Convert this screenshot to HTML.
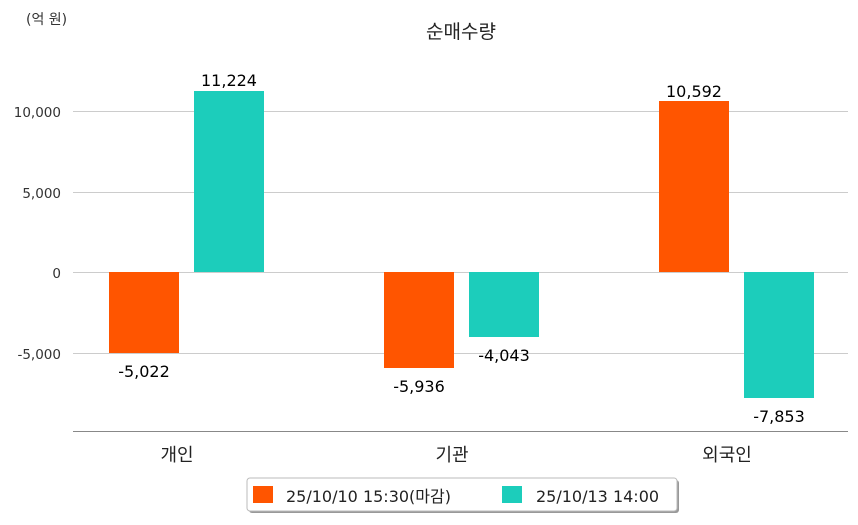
<!DOCTYPE html>
<html><head><meta charset="utf-8"><style>
body{margin:0;background:#fff;}
svg text{font-family:"DejaVu Sans","Noto Sans CJK KR",sans-serif;}
</style></head><body>
<svg width="858" height="520" xmlns="http://www.w3.org/2000/svg">
<rect width="858" height="520" fill="#fff"/>
<text x="26" y="24" font-size="14" fill="#333">(억 원)</text>
<text x="461" y="38" font-size="19" fill="#222" text-anchor="middle">순매수량</text>
<g stroke="#ccc" stroke-width="1">
<line x1="73" y1="111.5" x2="848" y2="111.5"/>
<line x1="73" y1="192.5" x2="848" y2="192.5"/>
<line x1="73" y1="272.5" x2="848" y2="272.5"/>
<line x1="73" y1="353.5" x2="848" y2="353.5"/>
</g>
<line x1="73" y1="431.5" x2="848" y2="431.5" stroke="#888"/>
<g font-size="13.5" fill="#333" text-anchor="end">
<text x="61" y="117">10,000</text>
<text x="61" y="198">5,000</text>
<text x="61" y="278">0</text>
<text x="61" y="359">-5,000</text>
</g>
<g fill="#ff5500">
<rect x="109" y="272" width="70" height="81"/>
<rect x="384" y="272" width="70" height="96"/>
<rect x="659" y="101" width="70" height="171"/>
</g>
<g fill="#1ccdbb">
<rect x="194" y="91" width="70" height="181"/>
<rect x="469" y="272" width="70" height="65"/>
<rect x="744" y="272" width="70" height="126"/>
</g>
<g font-size="16" fill="#000" text-anchor="middle">
<text x="144" y="377">-5,022</text>
<text x="229" y="86">11,224</text>
<text x="419" y="392">-5,936</text>
<text x="504" y="361">-4,043</text>
<text x="694" y="97">10,592</text>
<text x="779" y="422">-7,853</text>
</g>
<g font-size="18" fill="#222" text-anchor="middle">
<text x="177" y="461">개인</text>
<text x="452" y="461">기관</text>
<text x="727" y="461">외국인</text>
</g>
<rect x="249" y="480" width="430" height="33" rx="3" fill="#999"/>
<rect x="247" y="478" width="430" height="33" rx="3" fill="#fff" stroke="#bbb"/>
<rect x="253" y="486" width="20" height="17" fill="#ff5500"/>
<text x="286" y="502" font-size="16" fill="#222">25/10/10 15:30(마감)</text>
<rect x="502" y="486" width="20" height="17" fill="#1ccdbb"/>
<text x="536" y="502" font-size="16" fill="#222">25/10/13 14:00</text>
</svg>
</body></html>
